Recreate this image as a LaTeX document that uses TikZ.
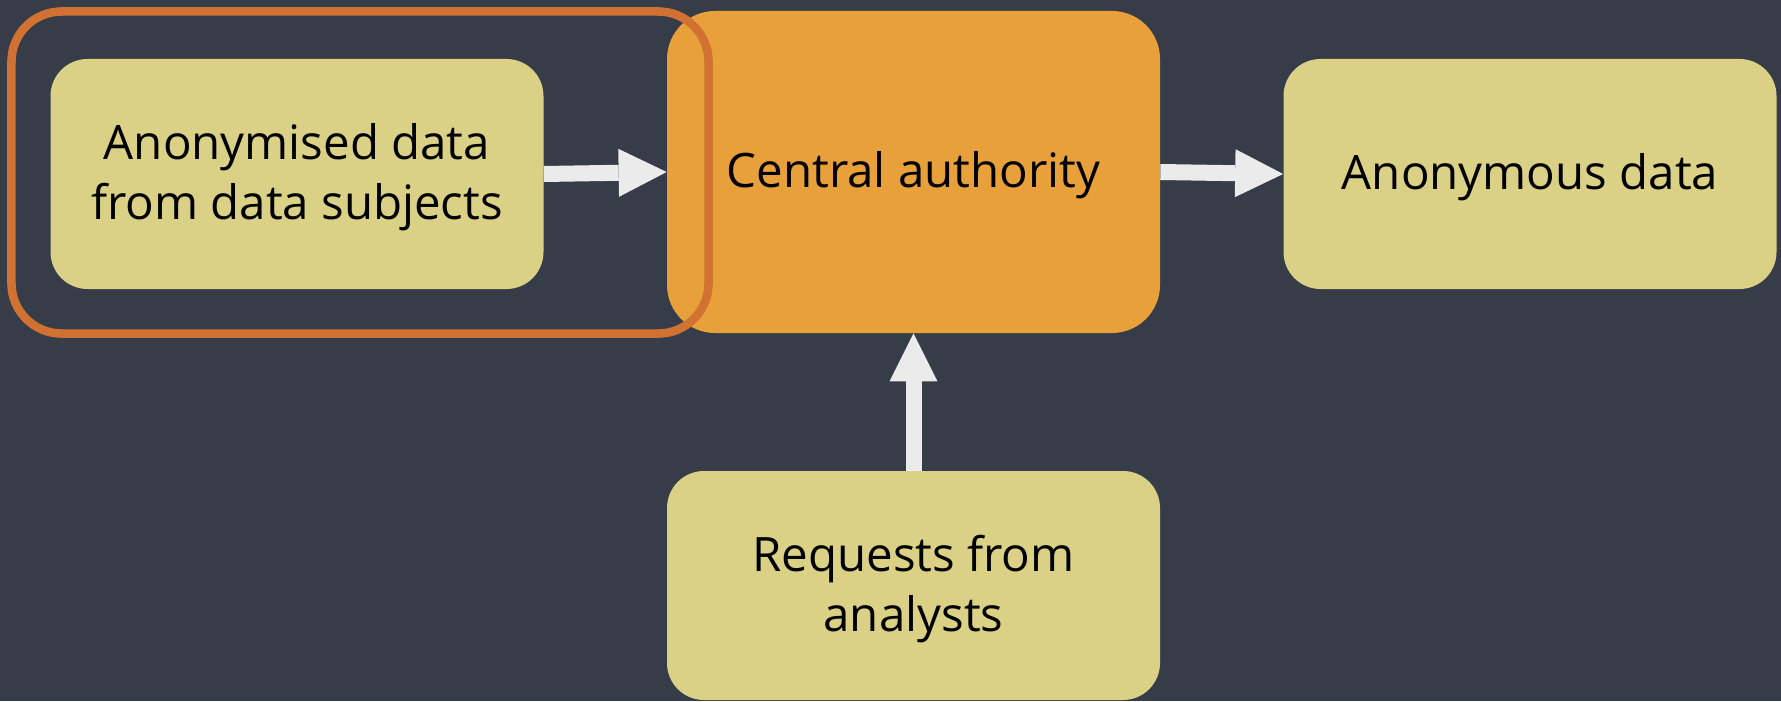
\documentclass[tikz,border=0pt]{standalone}
\usepackage{fontspec}
\setmainfont{Open Sans}
\usetikzlibrary{arrows.meta}
\definecolor{slate}{HTML}{373D48}
\definecolor{sand}{HTML}{DBD186}
\definecolor{amber}{HTML}{E8A03A}
\definecolor{rust}{HTML}{D17232}
\definecolor{pale}{HTML}{EBEBEB}
\newcommand{\tallline}{\rule{0pt}{24.5pt}}
\begin{document}
\begin{tikzpicture}[
        box/.style={fill=sand, rounded corners=0.74cm, inner sep=0pt, align=center,
            minimum width=9.86cm, minimum height=4.6cm, font=\fontsize{27}{34}\selectfont},
        flow/.style={draw=pale, line width=0.32cm,
            -{Triangle[length=0.96cm, width=0.96cm, line width=0pt]}}
    ]
        \begin{scope}
        \fill[slate] (0, 0) rectangle (35.62, 14.02);
        \node[box] (anon) at (5.94, 10.54) {\tallline Anonymised data\\from data subjects};
        \node[box, fill=amber, rounded corners=0.96cm, minimum height=6.44cm] (central) at (18.27, 10.58) {\tallline Central authority};
        \node[box] (anonymous) at (30.6, 10.54) {\tallline Anonymous data};
        \node[box, minimum height=4.58cm] (requests) at (18.27, 2.31) {\tallline Requests from\\analysts};
        \draw[flow] (anon.east) -- (central.west);
        \draw[flow] (central.east) -- (anonymous.west);
        \draw[flow] (requests.north) -- (central.south);
        \draw[rust, line width=0.17cm, rounded corners=1cm] (0.23, 13.79) rectangle (14.17, 7.35);
        \end{scope}
        \end{tikzpicture}
\end{document}
